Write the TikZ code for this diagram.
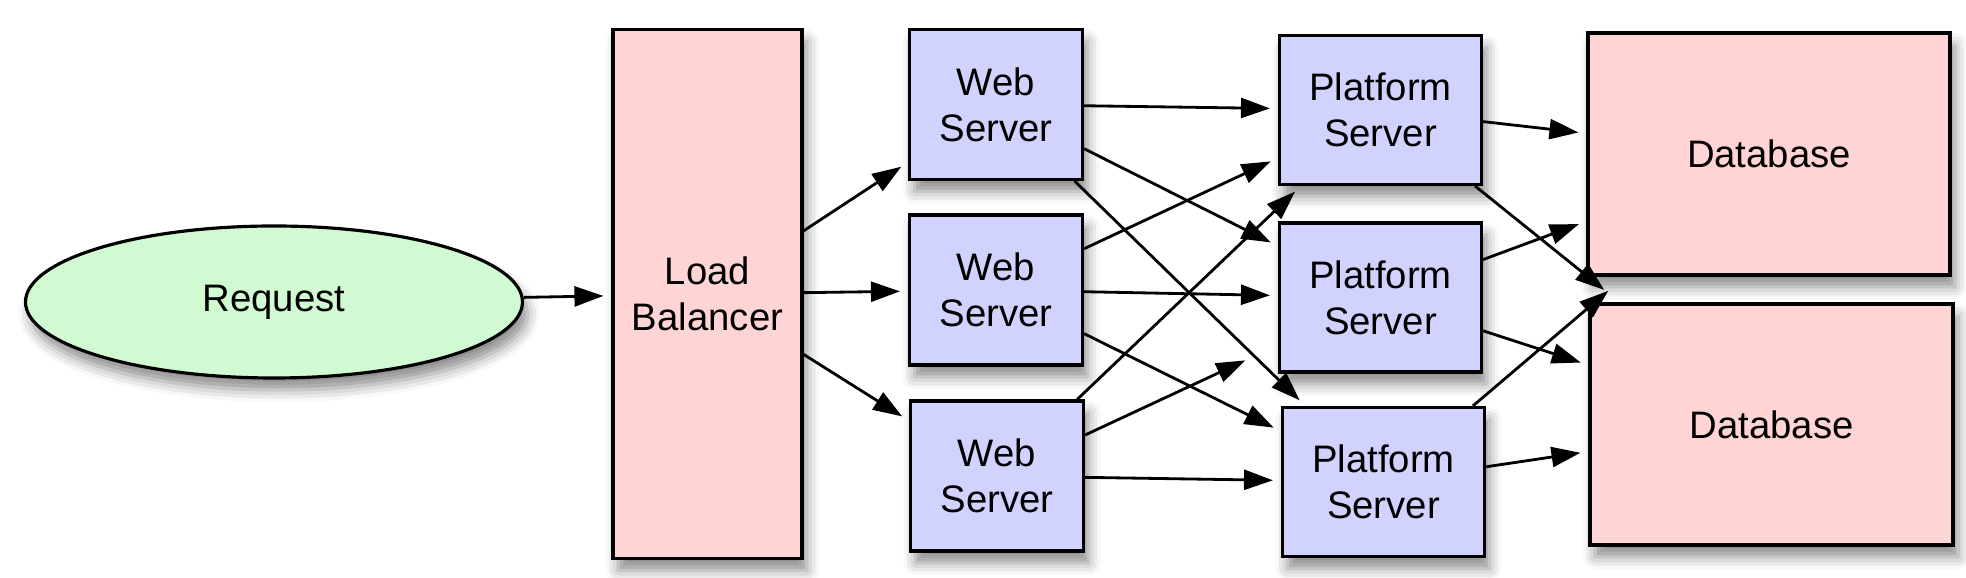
\documentclass[tikz,border=0pt]{standalone}
\usepackage{fontspec}
\setmainfont{Liberation Sans}
\usetikzlibrary{arrows.meta,shapes.geometric,shadows.blur}

\definecolor{reqgreen}{RGB}{210,250,210}
\definecolor{boxpink}{RGB}{255,212,212}
\definecolor{boxblue}{RGB}{210,210,255}

\begin{document}
\begin{tikzpicture}[line width=0.9pt,
  shade/.style={blur shadow={shadow xshift=0.5mm,shadow yshift=-1.2mm,shadow blur radius=1.2mm,shadow opacity=45}},
  srv/.style={draw,shade,inner sep=0pt,align=center,font=\fontsize{10.9}{13}\selectfont},
  arr/.style={-{Triangle[length=2.9mm,width=2mm]},line width=0.8pt,shorten >=0.8mm}]
\useasboundingbox (0,0) rectangle (19.66,5.78);

\node[srv,ellipse,fill=reqgreen,minimum width=49.7mm,minimum height=15.2mm] (req) at (2.74,2.76) {Request};
\node[srv,fill=boxpink,minimum width=18.9mm,minimum height=52.9mm] (lb) at (7.075,2.84) {Load\\Balancer};

\node[srv,fill=boxblue,minimum width=17.3mm,minimum height=15mm] (ws1) at (9.96,4.735) {Web\\Server};
\node[srv,fill=boxblue,minimum width=17.3mm,minimum height=15mm] (ws2) at (9.96,2.88) {Web\\Server};
\node[srv,fill=boxblue,minimum width=17.3mm,minimum height=15mm] (ws3) at (9.97,1.02) {Web\\Server};

\node[srv,fill=boxblue,minimum width=20.2mm,minimum height=14.9mm] (ps1) at (13.805,4.68) {Platform\\Server};
\node[srv,fill=boxblue,minimum width=20.2mm,minimum height=14.9mm] (ps2) at (13.805,2.805) {Platform\\Server};
\node[srv,fill=boxblue,minimum width=20.2mm,minimum height=14.9mm] (ps3) at (13.835,0.96) {Platform\\Server};

\node[srv,fill=boxpink,minimum width=36.2mm,minimum height=24.2mm] (db1) at (17.69,4.24) {Database};
\node[srv,fill=boxpink,minimum width=36.3mm,minimum height=24.1mm] (db2) at (17.715,1.535) {Database};

\draw[arr] (req) -- (lb);
\draw[arr] (lb) -- (ws1);
\draw[arr] (lb) -- (ws2);
\draw[arr] (lb) -- (ws3);

\draw[arr] (ws1) -- (ps1);
\draw[arr] (ws1) -- (ps2);
\draw[arr] (ws1) -- (ps3);
\draw[arr] (ws2) -- (ps1);
\draw[arr] (ws2) -- (ps2);
\draw[arr] (ws2) -- (ps3);
\draw[arr] (ws3) -- (ps1);
\draw[arr,shorten >=3.6mm] (ws3) -- (ps2);
\draw[arr] (ws3) -- (ps3);

\draw[arr] (ps1) -- (db1);
\draw[arr,shorten >=2mm] (ps1) -- (db2);
\draw[arr] (ps2) -- (db1);
\draw[arr] (ps2) -- (db2);
\draw[arr,shorten >=2.2mm] (ps3) -- (db1);
\draw[arr] (ps3) -- (db2);

\end{tikzpicture}
\end{document}
